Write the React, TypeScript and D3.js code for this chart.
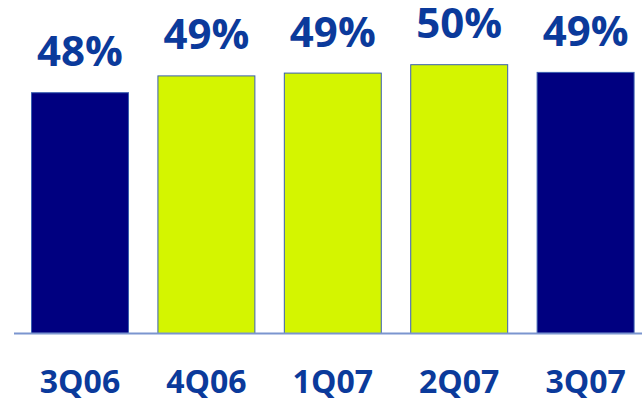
import React from "react";
import * as d3 from "d3";

const categories = ["3Q06", "4Q06", "1Q07", "2Q07", "3Q07"];
const values = [48.0, 49.2, 49.4, 50.0, 49.45];
const valueLabels = ["48%", "49%", "49%", "50%", "49%"];
const barColors = ["#000080", "#d4f500", "#d4f500", "#d4f500", "#000080"];

const W = 642;
const H = 402;
const BASE = 333;
const TEXT = "#0b3a9b";

export default function App() {
  const x = d3
    .scaleBand<string>()
    .domain(categories)
    .range([16.8, 648.8])
    .paddingInner(0.225)
    .paddingOuter(0.1125);
  const y = d3.scaleLinear().domain([30.8, 52.5]).range([BASE, 29.2]);

  return (
    <svg
      width={W}
      height={H}
      style={{ position: "absolute", left: 0, top: 0, background: "#fff" }}
      fontFamily="'Open Sans', sans-serif"
    >
      {categories.map((c, i) => {
        const bx = x(c)!;
        const top = y(values[i]);
        return (
          <g key={c}>
            <rect
              x={bx + 0.5}
              y={top + 0.5}
              width={x.bandwidth() - 1}
              height={BASE - top}
              fill={barColors[i]}
              stroke="#3a5fb0"
              strokeWidth={1}
            />
            <text
              x={bx + x.bandwidth() / 2}
              y={top - 26}
              textAnchor="middle"
              fontSize={42}
              fontWeight={700}
              fill={TEXT}
            >
              {valueLabels[i]}
            </text>
            <text
              x={bx + x.bandwidth() / 2}
              y={393}
              textAnchor="middle"
              fontSize={32}
              fontWeight={700}
              fill={TEXT}
            >
              {c}
            </text>
          </g>
        );
      })}
      <line x1={14} x2={642} y1={BASE + 0.5} y2={BASE + 0.5} stroke="#7b95cf" strokeWidth={2} />
    </svg>
  );
}
